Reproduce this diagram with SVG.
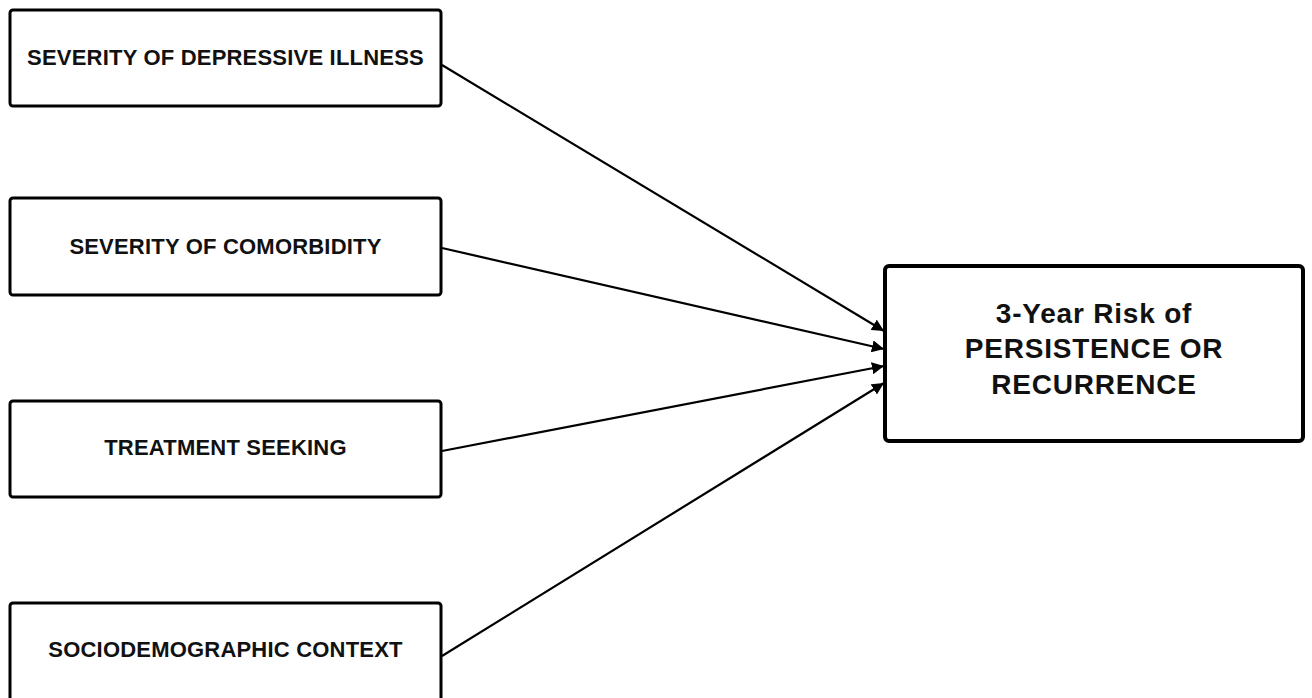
<svg xmlns="http://www.w3.org/2000/svg" width="1312" height="698" viewBox="0 0 1312 698">
<style>
.box{fill:#fff;stroke:#000;stroke-width:3}
.big{fill:#fff;stroke:#000;stroke-width:4}
.t{font-family:"Liberation Sans",Arial,sans-serif;font-weight:bold;font-size:22px;letter-spacing:0.2px;fill:#111;text-anchor:middle}
.tb{font-family:"Liberation Sans",Arial,sans-serif;font-weight:bold;font-size:28px;letter-spacing:0.8px;fill:#111;text-anchor:middle}
.c{stroke:#000;stroke-width:2.2;fill:none;marker-end:url(#ah)}
</style>
<defs>
<marker id="ah" viewBox="0 0 10 10" refX="10" refY="5" markerWidth="5.5" markerHeight="5.5" orient="auto" markerUnits="strokeWidth">
<path d="M0,0 L10,5 L0,10 z" fill="#000"/>
</marker>
</defs>
<rect width="1312" height="698" fill="#fff"/>
<g id="connectors">
<line class="c" x1="442" y1="65" x2="884" y2="331"/>
<line class="c" x1="442" y1="248" x2="884" y2="349"/>
<line class="c" x1="442" y1="451" x2="884" y2="366"/>
<line class="c" x1="442" y1="656" x2="884" y2="383"/>
</g>
<g id="n1">
<rect class="box" x="10" y="10" width="431" height="96" rx="3"/>
<text class="t" x="225.5" y="65">SEVERITY OF DEPRESSIVE ILLNESS</text>
</g>
<g id="n2">
<rect class="box" x="10" y="198" width="431" height="97" rx="3"/>
<text class="t" x="225.5" y="254">SEVERITY OF COMORBIDITY</text>
</g>
<g id="n3">
<rect class="box" x="10" y="401" width="431" height="96" rx="3"/>
<text class="t" x="225.5" y="455">TREATMENT SEEKING</text>
</g>
<g id="n4">
<rect class="box" x="10" y="603" width="431" height="100" rx="3"/>
<text class="t" x="225.5" y="657">SOCIODEMOGRAPHIC CONTEXT</text>
</g>
<g id="target">
<rect class="big" x="885" y="266" width="418" height="175" rx="4"/>
<text class="tb" x="1094" y="323">3-Year Risk of</text>
<text class="tb" x="1094" y="358">PERSISTENCE OR</text>
<text class="tb" x="1094" y="394">RECURRENCE</text>
</g>
</svg>
